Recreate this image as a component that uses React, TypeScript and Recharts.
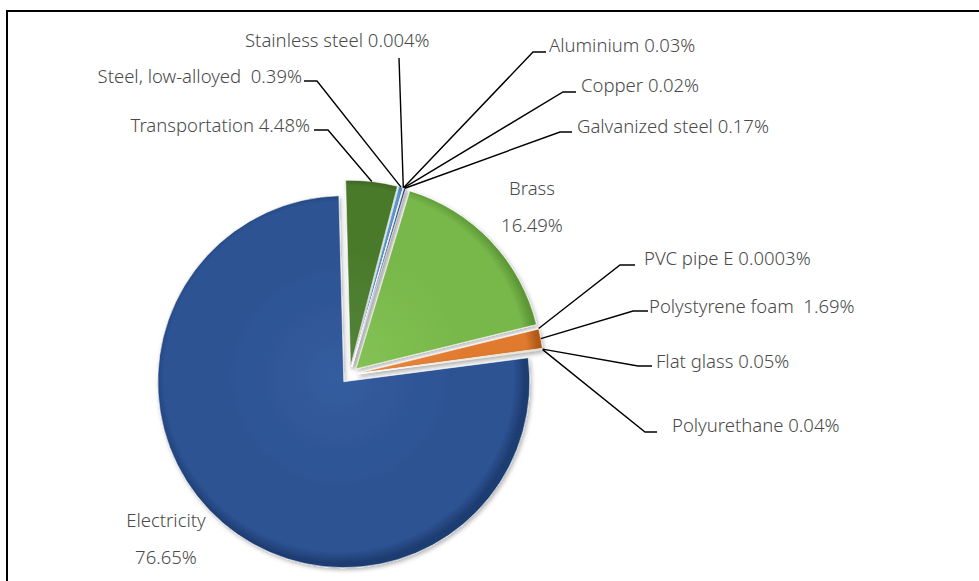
import { Cell, Pie, PieChart } from "recharts";

const categories = [
  "Transportation",
  "Steel, low-alloyed ",
  "Stainless steel",
  "Aluminium",
  "Copper",
  "Galvanized steel",
  "Brass",
  "PVC pipe E",
  "Polystyrene foam ",
  "Flat glass",
  "Polyurethane",
  "Electricity",
];
const values = [4.48, 0.39, 0.004, 0.03, 0.02, 0.17, 16.49, 0.0003, 1.69, 0.05, 0.04, 76.65];
const colors = [
  ["#53843a", "#4a7a2b", "#365a1e"],
  ["#6aa6dc", "#5b9bd5", "#3f77ad"],
  ["#b5b5b5", "#a5a5a5", "#808080"],
  ["#ffc830", "#ffc000", "#c89600"],
  ["#577fcc", "#4472c4", "#2f5597"],
  ["#30508a", "#264478", "#1a3055"],
  ["#84c255", "#78b74a", "#5c9636"],
  ["#b05418", "#9e480e", "#7a3408"],
  ["#ec8a42", "#e07a2f", "#b05a18"],
  ["#747474", "#636363", "#444444"],
  ["#a88010", "#997300", "#705400"],
  ["#335d9f", "#2d5393", "#1f3d72"],
];

// label placement: text anchor point + leader elbow (null = no leader)
const labelLayout = [
  { x: 310, y: 132, anchor: "end", elbow: [328, 130], stub: 314 },
  { x: 302, y: 83, anchor: "end", elbow: [317, 81], stub: 304 },
  { x: 245, y: 47, anchor: "start", elbow: [399, 58], stub: null },
  { x: 549, y: 52, anchor: "start", elbow: [533, 52], stub: 546 },
  { x: 581, y: 92, anchor: "start", elbow: [563, 92], stub: 576 },
  { x: 577, y: 133, anchor: "start", elbow: [560, 132], stub: 572 },
  { x: 532, y: 195, anchor: "middle", elbow: null, stub: null },
  { x: 644, y: 265, anchor: "start", elbow: [620, 265], stub: 635 },
  { x: 649, y: 313, anchor: "start", elbow: [633, 311], stub: 648 },
  { x: 656, y: 368, anchor: "start", elbow: [638, 366], stub: 652 },
  { x: 672, y: 432, anchor: "start", elbow: [645, 432], stub: 657 },
  { x: 166, y: 527, anchor: "middle", elbow: null, stub: null },
];

const W = 979;
const H = 581;
const CX = 344.5;
const CY = 370;
const R = 186;
const EXPLODE = 8.8;
const START = 91.5;
const RAD = Math.PI / 180;
const FONT = "'Noto Sans', sans-serif";

const data = categories.map((name, i) => ({ name, value: values[i] }));
const total = values.reduce((a, b) => a + b, 0);

const offsets = (() => {
  let cum = 0;
  return values.map((v) => {
    const mid = START - ((cum + v / 2) / total) * 360;
    cum += v;
    return {
      cx: CX + EXPLODE * Math.cos(mid * RAD),
      cy: CY - EXPLODE * Math.sin(mid * RAD),
    };
  });
})();

const renderLabel = (i: number) => (p: any) => {
  if (p.index !== i) return null;
  const L = labelLayout[i];
  const px = p.cx + R * Math.cos(-p.midAngle * RAD);
  const py = p.cy + R * Math.sin(-p.midAngle * RAD);
  const common = {
    fontFamily: FONT,
    fontSize: 18.5,
    fontWeight: 300,
    fill: "#4a4a4a",
    style: { whiteSpace: "pre" as const },
  };
  if (!L.elbow) {
    return (
      <g key={`lbl-${i}`}>
        <text {...common} x={L.x} y={L.y} textAnchor="middle">
          {categories[i]}
        </text>
        <text {...common} x={L.x} y={L.y + 37} textAnchor="middle">
          {`${values[i]}%`}
        </text>
      </g>
    );
  }
  const pts = [`${px},${py}`, `${L.elbow[0]},${L.elbow[1]}`];
  if (L.stub !== null) pts.push(`${L.stub},${L.elbow[1]}`);
  return (
    <g key={`lbl-${i}`}>
      <polyline points={pts.join(" ")} fill="none" stroke="#000" strokeWidth={1.4} />
      <text {...common} x={L.x} y={L.y} textAnchor={L.anchor as any}>
        {`${categories[i]} ${values[i]}%`}
      </text>
    </g>
  );
};

export default function App() {
  return (
    <div style={{ position: "absolute", left: 0, top: 0, width: W, height: H, overflow: "hidden", background: "#fff" }}>
      <div
        style={{
          position: "absolute",
          left: 6,
          top: 10,
          width: W + 40,
          height: H + 40,
          border: "2px solid #000",
        }}
      />
      <div style={{ position: "absolute", left: 0, top: 0 }}>
        <PieChart width={W} height={H}>
          <defs>
            <filter id="sh" x="-20%" y="-20%" width="140%" height="140%">
              <feDropShadow dx="1.5" dy="2" stdDeviation="2.2" floodColor="#000" floodOpacity="0.3" />
            </filter>
            {offsets.map((o, i) => (
              <radialGradient key={i} id={`g${i}`} gradientUnits="userSpaceOnUse" cx={o.cx} cy={o.cy} r={R}>
                <stop offset="0%" stopColor={colors[i][0]} />
                <stop offset="60%" stopColor={colors[i][1]} />
                <stop offset="94%" stopColor={colors[i][1]} />
                <stop offset="100%" stopColor={colors[i][2]} />
              </radialGradient>
            ))}
          </defs>
          {offsets.map((o, i) => (
            <Pie
              key={categories[i]}
              data={data}
              dataKey="value"
              nameKey="name"
              cx={o.cx}
              cy={o.cy}
              outerRadius={R}
              startAngle={START}
              endAngle={START - 360}
              stroke="none"
              labelLine={false}
              label={renderLabel(i)}
              isAnimationActive={false}
            >
              {data.map((d, j) => (
                <Cell
                  key={d.name}
                  fill={j === i ? `url(#g${i})` : "none"}
                  stroke={j === i ? "#ffffff" : "none"}
                  strokeWidth={j === i ? 0.6 : 0}
                  filter={j === i ? "url(#sh)" : undefined}
                />
              ))}
            </Pie>
          ))}
        </PieChart>
      </div>
    </div>
  );
}
